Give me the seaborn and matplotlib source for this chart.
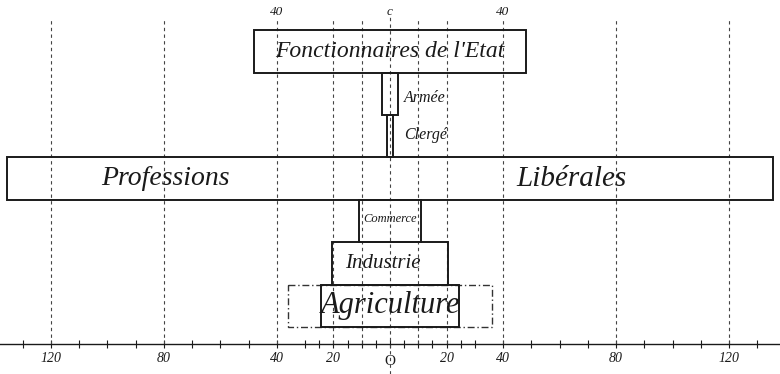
import pandas as pd
import matplotlib.pyplot as plt
import seaborn as sns

categories = ["Fonctionnaires de l'Etat", "Armée", "Clergé", "Professions Libérales",
              "Commerce", "Industrie", "Agriculture"]
half_widths = [48, 3, 1, 135.7, 11, 20.5, 24.5]
agri_outer = 36

grid_x = [-120, -80, -40, -20, -10, 0, 10, 20, 40, 80, 120]
major_ticks = [-120, -80, -40, -20, 20, 40, 80, 120]
major_labels = ["120", "80", "40", "20", "20", "40", "80", "120"]
minor_ticks = [-130, -110, -100, -90, -70, -60, -50, -30, -25, -15, -10, -5, 0,
               5, 10, 15, 25, 30, 50, 60, 70, 90, 100, 110, 130]
top_ticks = [-40, 0, 40]
top_labels = ["40", "c", "40"]

sns.set_theme(style="white")
plt.rcParams['font.family'] = ['Liberation Serif', 'DejaVu Serif']

ink = "#1a1a1a"

df = pd.DataFrame({"categorie": categories, "largeur": [2 * h for h in half_widths]})

fig = plt.figure(figsize=(7.8, 3.74), dpi=100)
ax = fig.add_axes([0, 1 - 344 / 374, 1, 324 / 374])

sns.barplot(data=df, x="largeur", y="categorie", orient="h", width=1.0,
            color="white", edgecolor=ink, linewidth=1.4, ax=ax)
# centrer chaque rectangle sur zéro
for p in ax.patches:
    p.set_x(p.get_x() - p.get_width() / 2)
    p.set_facecolor("none")
    p.set_zorder(3)

# cadre en tirets-points de l'agriculture
ax.barh(6, 2 * agri_outer, left=-agri_outer, height=1.0, fill=False,
        edgecolor="#333333", linewidth=1.0, linestyle=(0, (5, 2, 1, 2)), zorder=2)

# lignes verticales pointillées
for gx in grid_x:
    if gx == 0:
        ax.axvline(gx, ymin=-0.093, ymax=1.02, color="#444444", lw=0.8,
                   ls=(0, (3, 3)), clip_on=False, zorder=1)
    else:
        ax.axvline(gx, ymin=0, ymax=1, color="#444444", lw=0.8,
                   ls=(0, (3, 3)), zorder=1)

ax.set_xlim(-138.05, 138.05)
ax.set_ylim(6.899, -0.743)

for s in ["left", "top", "right"]:
    ax.spines[s].set_visible(False)
ax.spines["bottom"].set_color(ink)
ax.spines["bottom"].set_linewidth(1.0)

ax.set_xticks(major_ticks)
ax.set_xticklabels(major_labels, fontstyle="italic", fontsize=10, color=ink)
ax.set_xticks(minor_ticks, minor=True)
ax.tick_params(axis="x", which="both", direction="inout", length=6, width=0.8,
               color=ink, bottom=True, pad=3)
ax.tick_params(axis="y", left=False, labelleft=False)
ax.set_xlabel("")
ax.set_ylabel("")

ax.text(0, 7.32, "O", ha="center", va="center", fontsize=11, color=ink, clip_on=False)
for tx, tl in zip(top_ticks, top_labels):
    ax.text(tx, -0.93, tl, ha="center", va="center", fontsize=9.5,
            fontstyle="italic", color=ink, clip_on=False)

txt = dict(fontstyle="italic", color=ink, va="center", zorder=4)
ax.text(0, 0, "Fonctionnaires de l'Etat", ha="center", fontsize=17, **txt)
ax.text(5, 1.1, "Armée", ha="left", fontsize=11.5, **txt)
ax.text(5, 1.97, "Clergé", ha="left", fontsize=11.5, **txt)
ax.text(-79.6, 3, "Professions", ha="center", fontsize=20, **txt)
ax.text(64.4, 3, "Libérales", ha="center", fontsize=21, **txt)
ax.text(0, 3.95, "Commerce", ha="center", fontsize=9, **txt)
ax.text(-2.5, 5, "Industrie", ha="center", fontsize=15, **txt)
ax.text(0, 6, "Agriculture", ha="center", fontsize=22, **txt)

fig.savefig("out.png", dpi=100)
